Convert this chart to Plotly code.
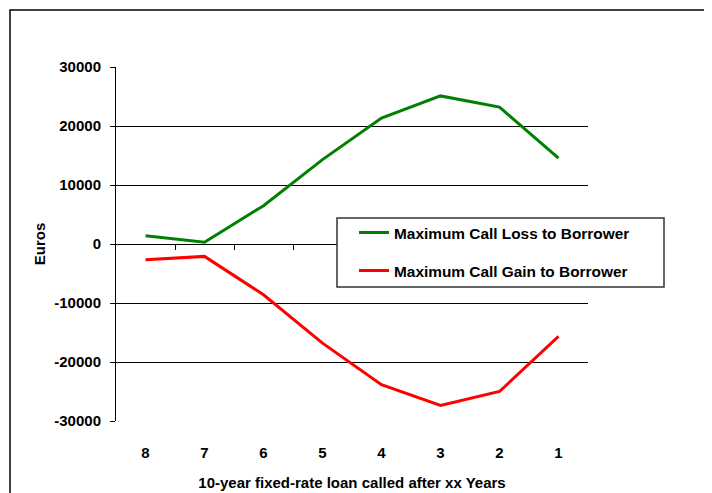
import plotly.graph_objects as go

categories = ["8", "7", "6", "5", "4", "3", "2", "1"]
loss_values = [1400, 300, 6500, 14300, 21350, 25100, 23200, 14550]
gain_values = [-2650, -2100, -8600, -16800, -23850, -27350, -25000, -15650]
y_ticks = [-30000, -20000, -10000, 0, 10000, 20000, 30000]
y_tick_labels = ["-30000", "-20000", "-10000", "0", "10000", "20000", "30000"]

FONT = "Liberation Sans, Arial, sans-serif"
OFF = 8  # page body margin offset
W, H = 712, 493
ML, MR, MT, MB = 116 - OFF, 124 + OFF, 67 - OFF, 72 + OFF
PW = W - ML - MR
PH = H - MT - MB


def px_x(px):
    return (px - OFF - ML) / PW


def px_y(py):
    return (H - MB - (py - OFF)) / PH


fig = go.Figure()
fig.add_trace(go.Scatter(
    x=categories, y=loss_values, mode="lines",
    name="Maximum Call Loss to Borrower", legendgroup="a",
    line=dict(color="#008000", width=3),
))
fig.add_trace(go.Scatter(
    x=categories, y=gain_values, mode="lines",
    name="Maximum Call Gain to Borrower", legendgroup="b",
    line=dict(color="#FF0000", width=3),
))
# invisible trace to carry the zero-line category axis
fig.add_trace(go.Scatter(
    x=categories, y=[0] * len(categories), xaxis="x2", mode="lines",
    line=dict(width=0), showlegend=False, hoverinfo="skip", opacity=0,
))

bold = dict(family=FONT, size=15, color="black", weight="bold")
bold_leg = dict(family=FONT, size=15.4, color="black", weight="bold")

fig.update_layout(
    width=W, height=H,
    margin=dict(l=ML, r=MR, t=MT, b=MB, pad=0, autoexpand=False),
    paper_bgcolor="white", plot_bgcolor="white",
    showlegend=True,
    legend=dict(
        x=px_x(354), y=px_y(216), xanchor="left", yanchor="top",
        bgcolor="rgba(0,0,0,0)", borderwidth=0,
        font=bold_leg, tracegroupgap=15, itemwidth=30,
    ),
    xaxis=dict(
        type="category", range=[-0.5, 7.5], automargin=False,
        showgrid=False, zeroline=False, showline=False,
        ticks="", tickfont=bold, ticklabelstandoff=21,
        title=dict(text="10-year fixed-rate loan called after xx Years", font=bold, standoff=17),
        fixedrange=True,
    ),
    xaxis2=dict(
        type="category", range=[-0.5, 7.5], overlaying="x",
        anchor="free", position=0.5, side="bottom", automargin=False,
        showgrid=False, zeroline=False, showline=True, linecolor="black", linewidth=1,
        ticks="outside", tickmode="array", tickvals=[0.5, 1.5, 2.5, 3.5, 4.5, 5.5, 6.5],
        ticklen=5, tickcolor="black", tickwidth=1, showticklabels=False,
    ),
    yaxis=dict(
        range=[-30000, 30000], tickmode="array", tickvals=y_ticks, ticktext=y_tick_labels,
        automargin=False,
        showgrid=True, gridcolor="black", gridwidth=1,
        zeroline=False, showline=True, linecolor="black", linewidth=1,
        ticks="outside", ticklen=5, tickcolor="black",
        tickfont=bold, ticklabelstandoff=6,
        title=dict(text="Euros", font=bold, standoff=5),
    ),
    shapes=[
        # legend box
        dict(type="rect", xref="paper", yref="paper",
             x0=px_x(337), x1=px_x(664), y0=px_y(287), y1=px_y(218),
             line=dict(color="#333333", width=1.5), fillcolor="white", layer="above"),
        # outer chart border (continues past the cropped edges)
        dict(type="rect", xref="paper", yref="paper",
             x0=px_x(10), x1=px_x(730), y0=px_y(515), y1=px_y(10),
             line=dict(color="black", width=1.5), fillcolor="rgba(0,0,0,0)", layer="above"),
    ],
)

fig.write_html("out.html")
